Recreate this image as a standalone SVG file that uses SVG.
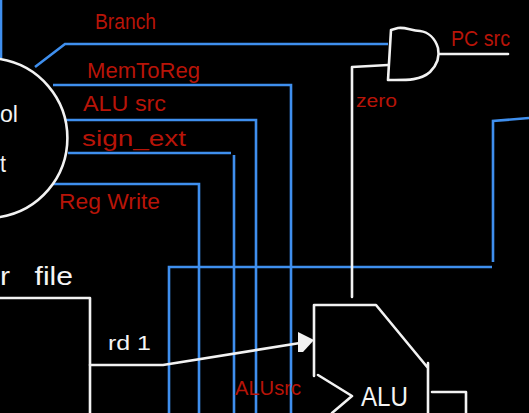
<svg xmlns="http://www.w3.org/2000/svg" width="529" height="413" viewBox="0 0 529 413">
<style>
.b{fill:none;stroke:#3f8fee;stroke-width:2.6}
.w{fill:none;stroke:#f2f2f2;stroke-width:2.6;stroke-linejoin:round;stroke-linecap:round}
text{font-family:"Liberation Sans",Arial,sans-serif}
.r{fill:#b81408;font-size:22px}
.t{fill:#f4f4f4;font-size:24px}
</style>
<rect width="529" height="413" fill="#000"/>
<g id="connectors">
<path class="b" d="M1 0V58"/>
<path class="b" d="M35 67L65 44H388"/>
<path class="b" d="M53 85H291V413"/>
<path class="b" d="M66 120H256V413"/>
<path class="b" d="M68 153H231M234 155V413"/>
<path class="b" d="M53 184H199V413"/>
<path class="b" d="M492 267H169V413"/>
<path class="b" d="M493 262V121L529 118"/>
<path class="w" d="M352 297V67L388 65"/>
<path class="w" d="M440 54H508"/>
<path class="w" d="M90 365H163L300 343"/>
<path d="M298 332L314 340L303 352L298 352Z" fill="#f2f2f2"/>
</g>
<g id="control">
<path class="w" d="M0 59A80 80 0 0 1 0 217"/>
<text class="t" x="0" y="122" textLength="18" lengthAdjust="spacingAndGlyphs">ol</text>
<text class="t" x="0" y="172" textLength="6" lengthAdjust="spacingAndGlyphs">t</text>
</g>
<g id="register-file">
<path class="w" d="M0 298H90V413"/>
<text class="t" x="0" y="285" textLength="73" lengthAdjust="spacingAndGlyphs" style="font-size:26px;word-spacing:14px">r file</text>
<text class="t" x="108" y="350" textLength="43" lengthAdjust="spacingAndGlyphs" style="font-size:21px">rd 1</text>
</g>
<g id="and-gate">
<path class="w" d="M391 30L388 80C405 80 420 81 430 72C438 64 440 57 438 48C435 38 428 32 420 31C410 30 405 27 398 28L391 30"/>
</g>
<g id="alu">
<path class="w" d="M314 376V305H376L428 368M428 363V413M432 392H466V413M318 375L352 396L332 413"/>
<text class="t" x="361" y="406" textLength="47" lengthAdjust="spacingAndGlyphs" style="font-size:28px">ALU</text>
</g>
<g id="labels">
<text class="r" x="95" y="29" textLength="61" lengthAdjust="spacingAndGlyphs">Branch</text>
<text class="r" x="87" y="78" textLength="113" lengthAdjust="spacingAndGlyphs">MemToReg</text>
<text class="r" x="83" y="111" textLength="83" lengthAdjust="spacingAndGlyphs">ALU src</text>
<text class="r" x="82" y="146" textLength="104" lengthAdjust="spacingAndGlyphs">sign_ext</text>
<text class="r" x="59" y="209" textLength="101" lengthAdjust="spacingAndGlyphs">Reg Write</text>
<text class="r" x="356" y="107" textLength="41" lengthAdjust="spacingAndGlyphs" style="font-size:18px">zero</text>
<text class="r" x="451" y="46" textLength="59" lengthAdjust="spacingAndGlyphs">PC src</text>
<text class="r" x="235" y="395" textLength="66" lengthAdjust="spacingAndGlyphs" style="font-size:20px">ALUsrc</text>
</g>
</svg>
